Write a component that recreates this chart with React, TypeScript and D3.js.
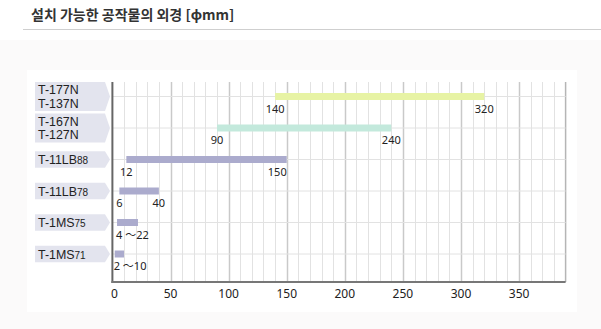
import React from "react";
import * as d3 from "d3";

const titleText = "설치 가능한 공작물의 외경 [ϕmm]";
const modelLines: string[][] = [
  ["T-177N", "T-137N"],
  ["T-167N", "T-127N"],
  ["T-11LB|88"],
  ["T-11LB|78"],
  ["T-1MS|75"],
  ["T-1MS|71"],
];
const minValues = [140, 90, 12, 6, 4, 2];
const maxValues = [320, 240, 150, 40, 22, 10];
const combinedLabel = [false, false, false, false, true, true];
const xTicks = [0, 50, 100, 150, 200, 250, 300, 350];
const xMax = 390;

const barColors = ["#e7f3a4", "#c3e9dc", "#ababcd", "#ababcd", "#ababcd", "#ababcd"];

export default function App() {
  const W = 601, H = 329;
  const x = d3.scaleLinear().domain([0, xMax]).range([112.4, 565.6]);
  const rows = d3.range(modelLines.length);
  const y = d3.scalePoint<number>().domain(rows).range([96.5, 254]);
  const plotTop = 82, plotBottom = 282;
  const minor = d3.range(10, xMax, 10);
  const font = "'Noto Sans', 'Noto Sans CJK KR', sans-serif";
  const labelFont = "'Liberation Sans', Arial, sans-serif";

  return (
    <svg width={W} height={H} style={{ position: "absolute", left: 0, top: 0 }} fontFamily={font}>
      <rect x={0} y={0} width={W} height={H} fill="#fbfafa" />
      <rect x={0} y={0} width={W} height={40} fill="#ffffff" />
      <text x={31} y={20} fontSize={14} fontWeight="bold" fill="#333" fontFamily="'Noto Sans CJK KR', 'Noto Sans', sans-serif">
        {titleText}
      </text>
      <line x1={23} x2={W} y1={29.5} y2={29.5} stroke="#cfcfcf" strokeWidth={1} />
      <rect x={27} y={70} width={550} height={242} fill="#ffffff" />

      {/* vertical grid */}
      {minor.map((v) => (
        <line
          key={"g" + v}
          x1={Math.round(x(v)) + 0.5}
          x2={Math.round(x(v)) + 0.5}
          y1={plotTop}
          y2={plotBottom}
          stroke={v % 50 === 0 ? "#c9c9c9" : "#e2e2e2"}
          strokeWidth={v % 50 === 0 ? 1.5 : 1}
        />
      ))}
      <line x1={x(xMax)} x2={x(xMax)} y1={plotTop} y2={plotBottom} stroke="#b5b5b5" strokeWidth={1.5} />
      {/* horizontal grid */}
      {rows.map((r) => (
        <line key={"h" + r} x1={x(0)} x2={x(xMax)} y1={y(r)!} y2={y(r)!} stroke="#e2e2e2" strokeWidth={1} />
      ))}

      {/* bars */}
      {rows.map((r) => (
        <rect
          key={"b" + r}
          x={x(minValues[r])}
          y={y(r)! - 3.5}
          width={x(maxValues[r]) - x(minValues[r])}
          height={7}
          fill={barColors[r]}
        />
      ))}

      {/* axes */}
      <line x1={x(0)} x2={x(0)} y1={plotTop} y2={plotBottom + 1} stroke="#666" strokeWidth={2} />
      <line x1={x(0) - 1} x2={x(xMax)} y1={plotBottom} y2={plotBottom} stroke="#777" strokeWidth={1.8} />

      {/* value labels */}
      {rows.map((r) => {
        const yy = y(r)! + 16;
        if (combinedLabel[r]) {
          return (
            <text key={"v" + r} x={x(minValues[r]) - 1} y={yy} fontSize={11} fill="#222">
              {`${minValues[r]} ～${maxValues[r]}`}
            </text>
          );
        }
        const endRight = maxValues[r] === 150;
        return (
          <g key={"v" + r} fontSize={11} fill="#222">
            <text x={x(minValues[r])} y={yy} textAnchor="middle">{minValues[r]}</text>
            <text x={x(maxValues[r])} y={yy} textAnchor={endRight ? "end" : "middle"}>
              {maxValues[r]}
            </text>
          </g>
        );
      })}

      {/* category label shapes */}
      {rows.map((r) => {
        const cy = y(r)!;
        const lines = modelLines[r];
        const h = lines.length > 1 ? 29 : 16.5;
        const top = cy - h / 2, bot = cy + h / 2;
        const pts = `35,${top} 105,${top} 110,${cy} 105,${bot} 35,${bot}`;
        return (
          <g key={"c" + r} fontFamily={labelFont}>
            <polygon points={pts} fill="#e3e4ee" />
            {lines.map((ln, i) => {
              const [main, sub] = ln.split("|");
              const by = lines.length > 1 ? cy - 2.5 + i * 13.6 : cy + 4.5;
              return (
                <text key={i} x={38} y={by} fontSize={12.4} fill="#222">
                  {main}
                  {sub ? <tspan fontSize={10}>{sub}</tspan> : null}
                </text>
              );
            })}
          </g>
        );
      })}

      {/* x tick labels */}
      {xTicks.map((t) => (
        <text key={"t" + t} x={t === 0 ? x(t) + 2 : x(t)} y={298} fontSize={12} textAnchor="middle" fill="#222">
          {t}
        </text>
      ))}
    </svg>
  );
}
